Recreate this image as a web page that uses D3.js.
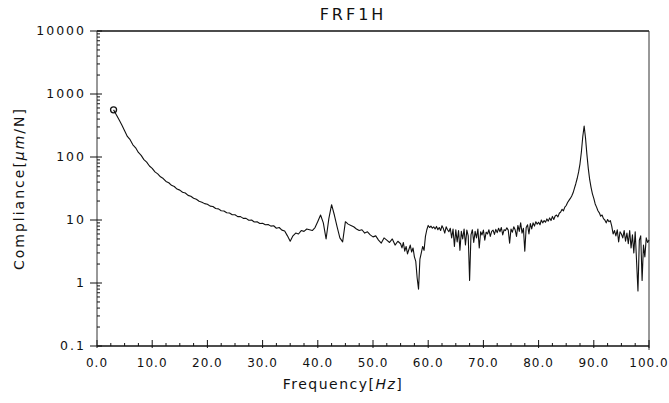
<!DOCTYPE html>
<html>
<head>
<meta charset="utf-8">
<script src="https://cdn.jsdelivr.net/npm/d3@7"></script>
<style>
  body { margin: 0; background: #fff; }
  text { font-family: "DejaVu Sans", sans-serif; fill: #111; }
</style>
</head>
<body>
<div id="chart"></div>
<script>
// frequency grid pieces (Hz) and compliance readings (um/N)
const lowStart = 3.0, lowStep = 0.5;
const lowValues = [
  560, 470, 390, 322, 262, 212, 188, 156, 140, 118,
  106, 91, 83, 72, 66, 58, 54, 48.5, 45.5, 41,
  39, 35.5, 34, 31, 29.8, 27.6, 26.8, 24.6, 23.8, 22.2,
  21.3, 19.8, 19.2, 18.2, 17.8, 16.6, 16.4, 15.2, 15.0, 14.0,
  13.9, 13.0, 12.9, 12.1, 12.1, 11.3, 11.3, 10.6, 10.6, 9.9,
  10.0, 9.3, 9.4, 8.8, 8.9, 8.4, 8.5, 8.0, 8.1, 7.4,
  7.6, 6.9, 6.7, 5.6, 4.6, 5.6, 6.2, 6.0, 6.8, 6.6,
  7.2, 7.0, 6.8, 7.6, 9.5, 12.0, 9.0, 5.0, 10.5, 17.5,
  12.0, 7.8, 5.2, 4.5, 9.4, 8.6, 8.2, 7.8, 7.2, 6.8,
  7.0, 6.2, 6.5, 5.8, 5.4, 5.6, 4.8, 4.3, 5.2, 4.8,
  4.4, 5.0, 4.0, 4.6
];
const highStart = 55.0, highStep = 0.25;
const highValues = [
  4.2, 3.6, 4.4, 3.2, 3.8, 2.9, 3.4, 4.0, 3.1, 3.6,
  2.6, 2.2, 1.2, 0.8, 2.4, 3.0, 3.8, 3.3, 5.5, 7.0,
  8.2, 7.6, 8.0, 7.4, 7.8, 7.2, 7.9, 7.0, 7.6, 6.8,
  8.1, 7.3, 6.2, 7.8, 7.0, 6.5, 7.4, 5.2, 7.2, 3.8,
  7.0, 4.5, 6.8, 3.3, 6.6, 5.0, 7.2, 4.0, 6.9, 5.6,
  1.1, 5.8, 7.0, 4.4, 6.6, 5.2, 7.2, 3.6, 6.5, 5.8,
  6.9, 4.8, 6.4, 6.0, 7.0, 5.5, 6.6, 6.9, 5.9, 7.1,
  6.3, 7.4, 6.5, 7.6, 5.8, 7.0, 6.8, 7.5, 6.9, 4.3,
  7.2, 6.4, 7.8, 7.0, 5.5, 8.2, 6.6, 9.0, 6.2, 7.4,
  3.2, 7.6, 8.4, 6.0, 8.8, 7.2, 9.0, 8.0, 9.4, 8.6,
  9.2, 8.4, 10.0, 9.0, 9.8, 9.2, 10.4, 9.6, 10.8, 9.8,
  11.4, 10.2, 11.6, 12.0, 11.2, 12.8, 13.4, 14.8, 14.0, 16.0,
  17.0, 19.0, 20.5, 22.0, 24.0, 27.0, 32.0, 38.0, 46.0, 58.0,
  78.0, 120, 210, 310, 200, 110, 66, 44, 33, 26,
  22, 18, 16, 14, 13, 11.5, 12.0, 10.5, 10.0, 9.0,
  10.2, 9.4, 9.8, 8.0, 6.0, 6.8, 5.6, 7.0, 4.5, 6.5,
  6.0, 5.2, 6.8, 4.6, 6.2, 4.2, 6.8, 3.6, 5.8, 3.0,
  6.5, 2.2, 0.75, 4.8, 5.6, 1.1, 4.0, 2.6, 5.2, 4.4,
  4.8
];
const xTickValues = [0, 10, 20, 30, 40, 50, 60, 70, 80, 90, 100];
const yTickValues = [0.1, 1, 10, 100, 1000, 10000];
const yTickLabels = ["0.1", "1", "10", "100", "1000", "10000"];

const data = lowValues.map((v, i) => ({ f: lowStart + i * lowStep, c: v }))
  .concat(highValues.map((v, i) => ({ f: highStart + i * highStep, c: v })));

const W = 669, H = 403;
const margin = { top: 31, right: 20, bottom: 57, left: 97 };
const width = W - margin.left - margin.right;
const height = H - margin.top - margin.bottom;

const svg = d3.select("#chart").append("svg")
  .attr("width", W).attr("height", H);
const g = svg.append("g")
  .attr("transform", `translate(${margin.left},${margin.top})`);

const x = d3.scaleLinear().domain([0, 100]).range([0, width]);
const y = d3.scaleLog().domain([0.1, 10000]).range([height, 0]);

// frame: top and right edges
g.append("line").attr("x1", 0).attr("x2", width).attr("y1", 0).attr("y2", 0)
  .attr("stroke", "#111").attr("stroke-width", 1.3);
g.append("line").attr("x1", width).attr("x2", width).attr("y1", 0).attr("y2", height + 4)
  .attr("stroke", "#333").attr("stroke-width", 1);

// x axis
const xAxis = g.append("g").attr("transform", `translate(0,${height})`);
xAxis.append("line").attr("x1", 0).attr("x2", width)
  .attr("stroke", "#111").attr("stroke-width", 1.3);
const xMinor = d3.range(0, 100.01, 2.5).filter(d => d % 10 !== 0);
xAxis.selectAll(".xminor").data(xMinor).join("line")
  .attr("x1", d => x(d)).attr("x2", d => x(d)).attr("y1", 0).attr("y2", -3)
  .attr("stroke", "#111");
xAxis.selectAll(".xmajor").data(xTickValues).join("line")
  .attr("x1", d => x(d)).attr("x2", d => x(d)).attr("y1", 2).attr("y2", -6)
  .attr("stroke", "#111");
xAxis.selectAll(".xlab").data(xTickValues).join("text")
  .attr("x", d => x(d)).attr("y", 21)
  .attr("text-anchor", "middle")
  .attr("font-size", 12).attr("letter-spacing", 1)
  .text(d => d.toFixed(1));

// y axis
const yAxis = g.append("g");
yAxis.append("line").attr("x1", 0).attr("x2", 0).attr("y1", 0).attr("y2", height)
  .attr("stroke", "#333").attr("stroke-width", 1);
const yMinor = [];
yTickValues.slice(0, -1).forEach(d => { for (let k = 2; k <= 9; k++) yMinor.push(d * k); });
yAxis.selectAll(".yminor").data(yMinor).join("line")
  .attr("x1", 0).attr("x2", 3).attr("y1", d => y(d)).attr("y2", d => y(d))
  .attr("stroke", "#111");
yAxis.selectAll(".ymajor").data(yTickValues).join("line")
  .attr("x1", -7).attr("x2", 5).attr("y1", d => y(d)).attr("y2", d => y(d))
  .attr("stroke", "#111");
yAxis.selectAll(".ylab").data(yTickLabels).join("text")
  .attr("x", -11).attr("y", (d, i) => y(yTickValues[i]))
  .attr("dy", "0.35em").attr("text-anchor", "end")
  .attr("font-size", 12.5).attr("letter-spacing", 2)
  .text(d => d);

// curve
const line = d3.line().x(d => x(d.f)).y(d => y(d.c));
g.append("path").datum(data)
  .attr("d", line)
  .attr("fill", "none").attr("stroke", "#111").attr("stroke-width", 1.1)
  .attr("stroke-linejoin", "round");

// start marker
g.append("circle")
  .attr("cx", x(data[0].f)).attr("cy", y(data[0].c)).attr("r", 3)
  .attr("fill", "none").attr("stroke", "#111").attr("stroke-width", 1.3);

// title and axis labels
svg.append("text")
  .attr("x", 353).attr("y", 20)
  .attr("text-anchor", "middle").attr("font-size", 16).attr("letter-spacing", 3)
  .text("FRF1H");

const xl = svg.append("text")
  .attr("x", 343).attr("y", 389)
  .attr("text-anchor", "middle").attr("font-size", 14).attr("letter-spacing", 1.5);
xl.append("tspan").text("Frequency[");
xl.append("tspan").attr("font-style", "italic").text("Hz");
xl.append("tspan").text("]");

const yl = svg.append("text")
  .attr("transform", `translate(24,${margin.top + height / 2}) rotate(-90)`)
  .attr("text-anchor", "middle").attr("font-size", 14).attr("letter-spacing", 2);
yl.append("tspan").text("Compliance[");
yl.append("tspan").attr("font-style", "italic").text("μm");
yl.append("tspan").text("/N]");
</script>
</body>
</html>
